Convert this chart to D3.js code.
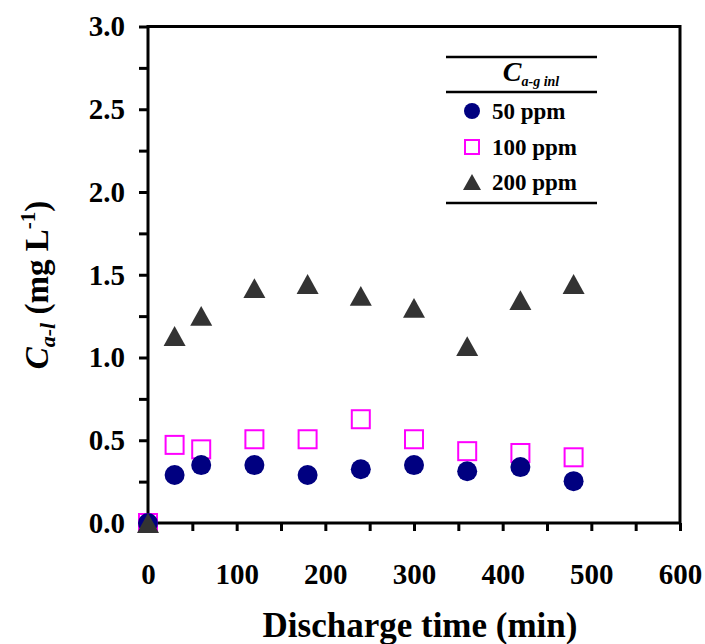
<!DOCTYPE html>
<html>
<head>
<meta charset="utf-8">
<script src="https://cdn.jsdelivr.net/npm/d3@7"></script>
<style>
  html, body { margin: 0; padding: 0; background: #ffffff; }
  svg { display: block; }
</style>
</head>
<body>
<div id="container"></div>
<script>
"use strict";

// Discharge time (min)
const times = [0, 30, 60, 120, 180, 240, 300, 360, 420, 480];
// C a-l (mg/L) for each inlet concentration
const ppm50 = [0, 0.29, 0.35, 0.35, 0.29, 0.325, 0.35, 0.313, 0.338, 0.253];
const ppm100 = [0, 0.472, 0.445, 0.506, 0.506, 0.627, 0.506, 0.434, 0.423, 0.397];
const ppm200 = [0, 1.13, 1.252, 1.419, 1.444, 1.372, 1.3, 1.069, 1.347, 1.444];
const seriesNames = ["50 ppm", "100 ppm", "200 ppm"];
const xTicks = [0, 100, 200, 300, 400, 500, 600];
const yTicks = [0, 0.5, 1.0, 1.5, 2.0, 2.5, 3.0];

const WIDTH = 705;
const HEIGHT = 644;
const FONT = "'Liberation Serif', 'Times New Roman', serif";

const svg = d3.create("svg").attr("width", WIDTH).attr("height", HEIGHT);

const x = d3.scaleLinear().domain([0, 600]).range([148, 680]);
const y = d3.scaleLinear().domain([0, 3]).range([523, 26.5]);

// Frame (left/bottom axes plus plain top/right lines).
svg.append("rect")
  .attr("x", x(0)).attr("y", y(3))
  .attr("width", x(600) - x(0)).attr("height", y(0) - y(3))
  .attr("fill", "none").attr("stroke", "#000").attr("stroke-width", 3);

// Minor ticks every 50 min / 0.25 mg/L, labels only on the majors.
const xAxis = d3.axisBottom(x)
  .tickValues(d3.range(0, 601, 50))
  .tickSize(8).tickPadding(32).tickSizeOuter(0)
  .tickFormat((d) => (xTicks.includes(d) ? d3.format("d")(d) : ""));
const yAxis = d3.axisLeft(y)
  .tickValues(d3.range(0, 3.01, 0.25))
  .tickSize(9).tickPadding(14).tickSizeOuter(0)
  .tickFormat((d) => (yTicks.some((t) => Math.abs(t - d) < 1e-9) ? d3.format(".1f")(d) : ""));

function styleAxis(g) {
  g.select(".domain").remove();
  g.selectAll(".tick line").attr("stroke", "#000").attr("stroke-width", 3);
  g.selectAll(".tick text")
    .attr("fill", "#000")
    .style("font-family", FONT)
    .style("font-weight", "bold")
    .style("font-size", "29px");
}

svg.append("g")
  .attr("transform", `translate(0, ${y(0)})`)
  .call(xAxis)
  .call(styleAxis);

svg.append("g")
  .attr("transform", `translate(${x(0)}, 0)`)
  .call(yAxis)
  .call(styleAxis);

// Markers. Triangle is centred on its bounding box, like the original plot.
function trianglePath(cx, cy, w) {
  const h = w * 0.9;
  return `M${cx},${cy - h / 2}L${cx + w / 2},${cy + h / 2}L${cx - w / 2},${cy + h / 2}Z`;
}
function drawSquare(g, cx, cy, s) {
  g.append("rect")
    .attr("x", cx - s / 2).attr("y", cy - s / 2)
    .attr("width", s).attr("height", s)
    .attr("fill", "none").attr("stroke", "#ff00ff").attr("stroke-width", 2);
}
function drawCircle(g, cx, cy, r) {
  g.append("circle").attr("cx", cx).attr("cy", cy).attr("r", r).attr("fill", "#000080");
}
function drawTriangle(g, cx, cy, w) {
  g.append("path").attr("d", trianglePath(cx, cy, w)).attr("fill", "#333333");
}

const marks = svg.append("g");
times.forEach((t, i) => drawSquare(marks, x(t), y(ppm100[i]), 18));
times.forEach((t, i) => drawCircle(marks, x(t), y(ppm50[i]), 10));
times.forEach((t, i) => drawTriangle(marks, x(t), y(ppm200[i]), 22));

// Axis titles.
svg.append("text")
  .attr("x", 420).attr("y", 637)
  .attr("text-anchor", "middle")
  .style("font-family", FONT).style("font-weight", "bold").style("font-size", "35px")
  .text("Discharge time (min)");

const yTitle = svg.append("text")
  .attr("transform", "translate(48, 285) rotate(-90)")
  .attr("text-anchor", "middle")
  .style("font-family", FONT).style("font-weight", "bold").style("font-size", "33px");
yTitle.append("tspan").style("font-style", "italic").text("C");
yTitle.append("tspan").style("font-style", "italic").style("font-size", "22px")
  .attr("dy", 7).text("a-l");
yTitle.append("tspan").attr("dy", -7).text(" (mg L");
yTitle.append("tspan").style("font-size", "21px").attr("dy", -13).text("-1");
yTitle.append("tspan").attr("dy", 13).text(")");

// Legend.
const legend = svg.append("g");
[57, 92, 203].forEach((ly) => {
  legend.append("line")
    .attr("x1", 446).attr("x2", 597).attr("y1", ly).attr("y2", ly)
    .attr("stroke", "#000").attr("stroke-width", 2.5);
});
const legendTitle = legend.append("text")
  .attr("x", 531).attr("y", 81)
  .attr("text-anchor", "middle")
  .style("font-family", FONT).style("font-weight", "bold").style("font-style", "italic")
  .style("font-size", "28px");
legendTitle.append("tspan").text("C");
legendTitle.append("tspan").style("font-size", "14px").attr("dy", 5).text("a-g inl");

const legendY = [111, 147, 182];
drawCircle(legend, 472, legendY[0], 8);
drawSquare(legend, 472, legendY[1], 14);
drawTriangle(legend, 472, legendY[2], 18);
seriesNames.forEach((name, i) => {
  legend.append("text")
    .attr("x", 492).attr("y", legendY[i] + 8)
    .style("font-family", FONT).style("font-weight", "bold").style("font-size", "23px")
    .text(name);
});

d3.select("#container").append(() => svg.node());
</script>
</body>
</html>
